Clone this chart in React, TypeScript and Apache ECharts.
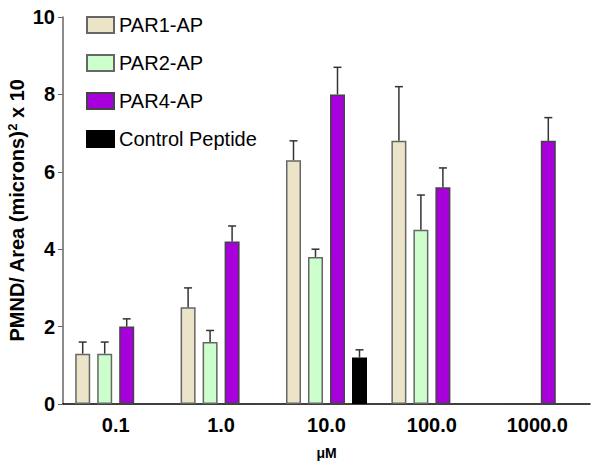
import React, { useEffect, useRef } from "react";
import * as echarts from "echarts";

const categories = ["0.1", "1.0", "10.0", "100.0", "1000.0"];
const seriesNames = ["PAR1-AP", "PAR2-AP", "PAR4-AP", "Control Peptide"];
const par1 = [1.3, 2.5, 6.3, 6.8, null];
const par1Err = [0.3, 0.5, 0.5, 1.4, null];
const par2 = [1.3, 1.6, 3.8, 4.5, null];
const par2Err = [0.3, 0.3, 0.2, 0.9, null];
const par4 = [2.0, 4.2, 8.0, 5.6, 6.8];
const par4Err = [0.2, 0.4, 0.7, 0.5, 0.6];
const control = [null, null, 1.2, null, null];
const controlErr = [null, null, 0.2, null, null];
const yTicks = [0, 2, 4, 6, 8, 10];

const colors = ["#ECE4C8", "#CCFFCC", "#A800DC", "#000000"];
const borders = ["#666666", "#666666", "#444444", "#000000"];

const BAR_W = 15;
const BAR_GAP = 7;
const FONT = "Arial, 'Liberation Sans', Helvetica, sans-serif";

export default function App() {
  const ref = useRef<HTMLDivElement>(null);
  useEffect(() => {
    document.body.style.margin = "0";
    if (!ref.current) return;
    const chart = echarts.init(ref.current, null, { renderer: "svg" });
    const values = [par1, par2, par4, control];
    const errs = [par1Err, par2Err, par4Err, controlErr];
    const n = values.length;

    const barSeries = values.map((v, i) => ({
      name: seriesNames[i],
      type: "bar",
      data: v,
      barWidth: BAR_W,
      barGap: (BAR_GAP / BAR_W) * 100 + "%",
      itemStyle: { color: colors[i], borderColor: borders[i], borderWidth: 1.5 },
      z: 2,
    }));

    const errSeries = values.map((v, i) => ({
      name: seriesNames[i] + "-err",
      type: "custom",
      coordinateSystem: "cartesian2d",
      z: 3,
      silent: true,
      data: v
        .map((val, c) => (val == null ? null : [c, val, errs[i][c]]))
        .filter((d) => d != null),
      encode: { x: 0, y: 1 },
      renderItem: (params: any, api: any) => {
        const c = api.value(0);
        const val = api.value(1);
        const e = api.value(2);
        const offset = (i - (n - 1) / 2) * (BAR_W + BAR_GAP);
        const p0 = api.coord([c, val]);
        const p1 = api.coord([c, val + e]);
        const x = p0[0] + offset;
        const style = { stroke: "#333333", lineWidth: 1.5 };
        return {
          type: "group",
          children: [
            { type: "line", shape: { x1: x, y1: p0[1], x2: x, y2: p1[1] }, style },
            { type: "line", shape: { x1: x - 4, y1: p1[1], x2: x + 4, y2: p1[1] }, style },
          ],
        };
      },
    }));

    chart.setOption({
      animation: false,
      grid: { left: 63, right: 10, top: 17, bottom: 63, outerBoundsMode: "none", containLabel: false },
      legend: {
        data: seriesNames,
        orient: "vertical",
        left: 86,
        top: 15,
        padding: 0,
        itemWidth: 27,
        itemHeight: 16,
        itemGap: 18,
        icon: "rect",
        textStyle: { fontFamily: FONT, fontSize: 20, color: "#000" },
        selectedMode: false,
      },
      xAxis: {
        type: "category",
        data: categories,
        name: "μM",
        nameLocation: "middle",
        nameGap: 42,
        nameMoveOverlap: false,
        nameTextStyle: { fontFamily: FONT, fontSize: 14, fontWeight: "bold", color: "#000" },
        axisLine: { lineStyle: { color: "#000", width: 1.5 } },
        axisTick: { alignWithLabel: true, length: 5, lineStyle: { color: "#666" } },
        axisLabel: { fontFamily: FONT, fontSize: 20, fontWeight: "bold", color: "#000", margin: 11 },
      },
      yAxis: {
        type: "value",
        min: 0,
        max: 10,
        interval: 2,
        name: "{a|PMND/ Area (microns)}{s|2}{a| x 10}",
        nameLocation: "middle",
        nameGap: 36,
        nameMoveOverlap: false,
        nameRotate: 90,
        nameTextStyle: {
          rich: {
            a: { fontFamily: FONT, fontSize: 20, fontWeight: "bold", color: "#000" },
            s: { fontFamily: FONT, fontSize: 13, fontWeight: "bold", color: "#000", verticalAlign: "top", padding: [0, 0, 8, 0] },
          },
        },
        axisLine: { show: true, lineStyle: { color: "#666", width: 1.5 } },
        axisTick: { show: true, length: 5, lineStyle: { color: "#666" } },
        splitLine: { show: false },
        axisLabel: {
          fontFamily: FONT,
          fontSize: 20,
          fontWeight: "bold",
          color: "#000",
          margin: 8,
          formatter: (v: number) => (yTicks.includes(v) ? String(v) : ""),
        },
      },
      series: [...barSeries, ...errSeries],
    });
    return () => chart.dispose();
  }, []);
  return <div ref={ref} style={{ width: 600, height: 467 }} />;
}
